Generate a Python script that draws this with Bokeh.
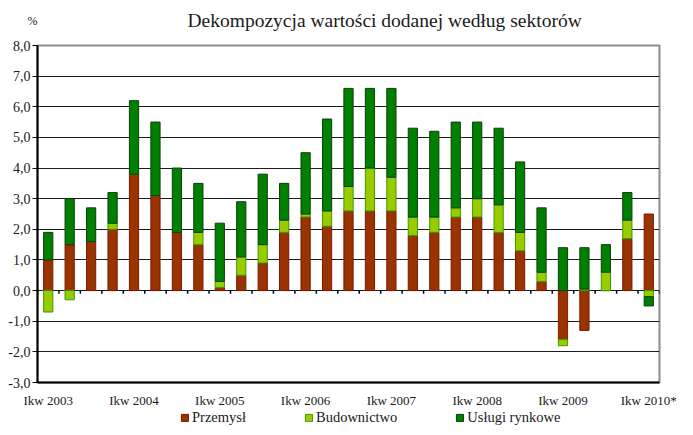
from bokeh.plotting import figure
from bokeh.layouts import column
from bokeh.models import Range1d, FixedTicker, Label, Legend, LegendItem, ColumnDataSource
from bokeh.embed import file_html
from bokeh.resources import INLINE

# ---- data (percentage-point contributions) ----
quarters = [
    "Ikw 2003", "IIkw 2003", "IIIkw 2003", "IVkw 2003",
    "Ikw 2004", "IIkw 2004", "IIIkw 2004", "IVkw 2004",
    "Ikw 2005", "IIkw 2005", "IIIkw 2005", "IVkw 2005",
    "Ikw 2006", "IIkw 2006", "IIIkw 2006", "IVkw 2006",
    "Ikw 2007", "IIkw 2007", "IIIkw 2007", "IVkw 2007",
    "Ikw 2008", "IIkw 2008", "IIIkw 2008", "IVkw 2008",
    "Ikw 2009", "IIkw 2009", "IIIkw 2009", "IVkw 2009",
    "Ikw 2010*",
]
przemysl = [1.0, 1.5, 1.6, 2.0, 3.8, 3.1, 1.9, 1.5, 0.1, 0.5, 0.9, 1.9, 2.4, 2.1, 2.6, 2.6,
            2.6, 1.8, 1.9, 2.4, 2.4, 1.9, 1.3, 0.3, -1.6, -1.3, 0.0, 1.7, 2.5]
budownictwo = [-0.7, -0.3, 0.0, 0.2, 0.0, 0.0, 0.0, 0.4, 0.2, 0.6, 0.6, 0.4, 0.1, 0.5, 0.8, 1.4,
               1.1, 0.6, 0.5, 0.3, 0.6, 0.9, 0.6, 0.3, -0.2, 0.05, 0.6, 0.6, -0.2]
uslugi = [0.9, 1.5, 1.1, 1.0, 2.4, 2.4, 2.1, 1.6, 1.9, 1.8, 2.3, 1.2, 2.0, 3.0, 3.2, 2.6,
          2.9, 2.9, 2.8, 2.8, 2.5, 2.5, 2.3, 2.1, 1.4, 1.35, 0.9, 0.9, -0.3]
series_names = ["Przemysł", "Budownictwo", "Usługi rynkowe"]
y_ticks = [-3, -2, -1, 0, 1, 2, 3, 4, 5, 6, 7, 8]
title_text = "Dekompozycja wartości dodanej według sektorów"
unit_text = "%"

fills = ["#993300", "#99CC00", "#008000"]
lines = ["#7a1a00", "#3c9a00", "#0b3d0b"]
SERIF = "Liberation Serif"
TXT = "#1a1a1a"
W = 677
BL, BR = 37, 18

n = len(quarters)
xs = [i + 0.5 for i in range(n)]

# ---- header strip: unit label (as a lone axis label) + title ----
p0 = figure(width=W, height=34, output_backend="svg", toolbar_location=None, title=None,
            x_range=Range1d(0, 1), y_range=Range1d(0, 1),
            x_axis_location=None, y_axis_location="left",
            min_border_left=BL, min_border_right=BR, min_border_top=0, min_border_bottom=0)
p0.outline_line_color = None
p0.xgrid.visible = False
p0.ygrid.visible = False
p0.yaxis.ticker = FixedTicker(ticks=[0.41])
p0.yaxis.major_label_overrides = {0.41: unit_text}
p0.yaxis.axis_line_color = None
p0.yaxis.major_tick_line_color = None
p0.yaxis.minor_tick_line_color = None
p0.yaxis.major_tick_out = 0
p0.yaxis.major_tick_in = 0
p0.yaxis.major_label_standoff = 0
p0.yaxis.major_label_text_font = SERIF
p0.yaxis.major_label_text_font_size = "12px"
p0.yaxis.major_label_text_color = TXT
p0.add_layout(Label(x=150, y=14, x_units="screen", y_units="screen", text=title_text,
                    text_font=SERIF, text_font_size="19.5px", text_color=TXT,
                    text_baseline="middle", text_align="left"))

# ---- main chart ----
p = figure(width=W, height=376, output_backend="svg", toolbar_location=None, title=None,
           x_range=Range1d(0, n), y_range=Range1d(-3, 8),
           min_border_left=BL, min_border_right=BR, min_border_top=11, min_border_bottom=26)
p.outline_line_color = "#8c8c8c"
p.outline_line_width = 2
p.background_fill_color = "white"
p.border_fill_color = "white"

p.xgrid.visible = False
p.ygrid.ticker = FixedTicker(ticks=y_ticks)
p.ygrid.grid_line_color = "#1a1a1a"
p.ygrid.grid_line_width = 1

p.yaxis.ticker = FixedTicker(ticks=y_ticks)
p.yaxis.major_label_overrides = {t: f"{t:.1f}".replace(".", ",") for t in y_ticks}
p.yaxis.axis_line_color = "black"
p.yaxis.axis_line_width = 2
p.yaxis.major_tick_out = 5
p.yaxis.major_tick_in = 0
p.yaxis.major_tick_line_color = "black"
p.yaxis.minor_tick_line_color = None
p.yaxis.major_label_standoff = 2
p.yaxis.major_label_text_font = SERIF
p.yaxis.major_label_text_font_size = "14px"
p.yaxis.major_label_text_color = TXT

q1_idx = [i for i, q in enumerate(quarters) if q.startswith("Ikw")]
p.xaxis.ticker = FixedTicker(ticks=[xs[i] for i in q1_idx])
p.xaxis.major_label_overrides = {xs[i]: quarters[i] for i in q1_idx}
p.xaxis.axis_line_color = "black"
p.xaxis.axis_line_width = 2
p.xaxis.major_tick_line_color = None
p.xaxis.minor_tick_line_color = None
p.xaxis.major_tick_out = 0
p.xaxis.major_tick_in = 0
p.xaxis.major_label_standoff = 10
p.xaxis.major_label_text_font = SERIF
p.xaxis.major_label_text_font_size = "13px"
p.xaxis.major_label_text_color = TXT

# stacked bars: positives up from 0, negatives down from 0
pos = [0.0] * n
neg = [0.0] * n
sources = []
for vals in [przemysl, budownictwo, uslugi]:
    bottoms, tops = [], []
    for i, v in enumerate(vals):
        if v >= 0:
            b = pos[i]; t = b + v; pos[i] = t
        else:
            b = neg[i]; t = b + v; neg[i] = t
        bottoms.append(b); tops.append(t)
    sources.append(ColumnDataSource(dict(x=xs, bottom=bottoms, top=tops)))

for src, fc, lc in zip(sources, fills, lines):
    p.vbar(x="x", bottom="bottom", top="top", width=0.43, source=src,
           fill_color=fc, line_color=lc, line_width=1)

# category tick marks on the zero line
bounds = list(range(n + 1))
p.segment(x0=bounds, y0=[0] * len(bounds), x1=bounds, y1=[-0.1] * len(bounds),
          line_color="black", line_width=1.5)

# ---- legend strip (proxy renderers share the data, kept out of view) ----
p2 = figure(width=W, height=17, output_backend="svg", toolbar_location=None, title=None,
            x_range=Range1d(1000, 1001), y_range=Range1d(1000, 1001),
            x_axis_location=None, y_axis_location=None,
            min_border_left=BL, min_border_right=BR, min_border_top=0, min_border_bottom=0)
p2.outline_line_color = None
p2.xgrid.visible = False
p2.ygrid.visible = False
proxies = [p2.vbar(x="x", bottom="bottom", top="top", width=0.43, source=src,
                   fill_color=fc, line_color=lc, line_width=1)
           for src, fc, lc in zip(sources, fills, lines)]
legend = Legend(items=[LegendItem(label=nm, renderers=[r]) for nm, r in zip(series_names, proxies)],
                orientation="horizontal", location=(143, 1), spacing=58,
                glyph_width=9, glyph_height=9, label_standoff=3, label_height=15,
                padding=0, margin=0, border_line_color=None, background_fill_alpha=0,
                label_text_font=SERIF, label_text_font_size="14.5px", label_text_color=TXT)
p2.add_layout(legend)

layout = column(p0, p, p2, spacing=0)
open("out.html", "w").write(file_html(layout, INLINE))
